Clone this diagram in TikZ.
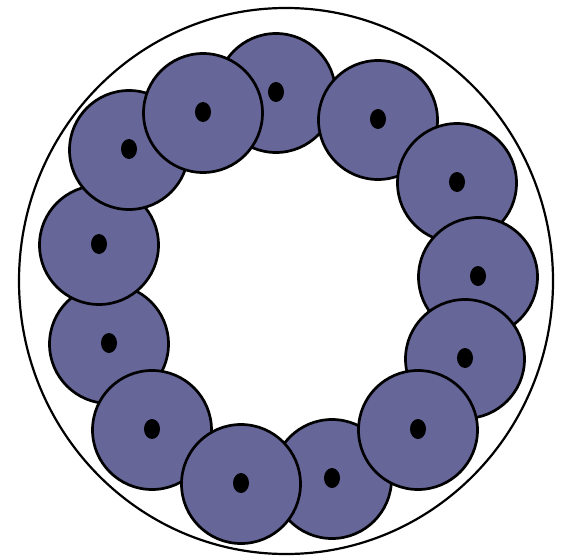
\documentclass[tikz,border=0pt]{standalone}
\usetikzlibrary{shapes.geometric}
\definecolor{cellfill}{HTML}{666699}
\begin{document}
\begin{tikzpicture}[
    x=1pt,y=-1pt,
    wall/.style={ellipse,draw,line width=2.2pt,minimum width=534pt,minimum height=546pt,inner sep=0pt},
    cell/.style={circle,draw,fill=cellfill,line width=2.7pt,minimum size=119pt,inner sep=0pt},
    nucleus/.style={ellipse,fill=black,minimum width=16pt,minimum height=20pt,inner sep=0pt}
]
\useasboundingbox (0,0) rectangle (561,556);
\node[wall] (colony) at (286,281) {};

% cells, lowest first
\foreach \name/\x/\y in {c1/276/93, c13/378/120, c12/457/183, c11/478/277,
    c10/465/359, c8/332/479, c9/418/430, c5/109/344, c6/152/430,
    c7/241/484, c4/99/245, c3/129/150, c2/203/113}{
  \node[cell] (\name) at (\x,\y) {};
  \node[nucleus] (n\name) at ([yshift=1pt]\name.center) {};
}
\end{tikzpicture}
\end{document}
